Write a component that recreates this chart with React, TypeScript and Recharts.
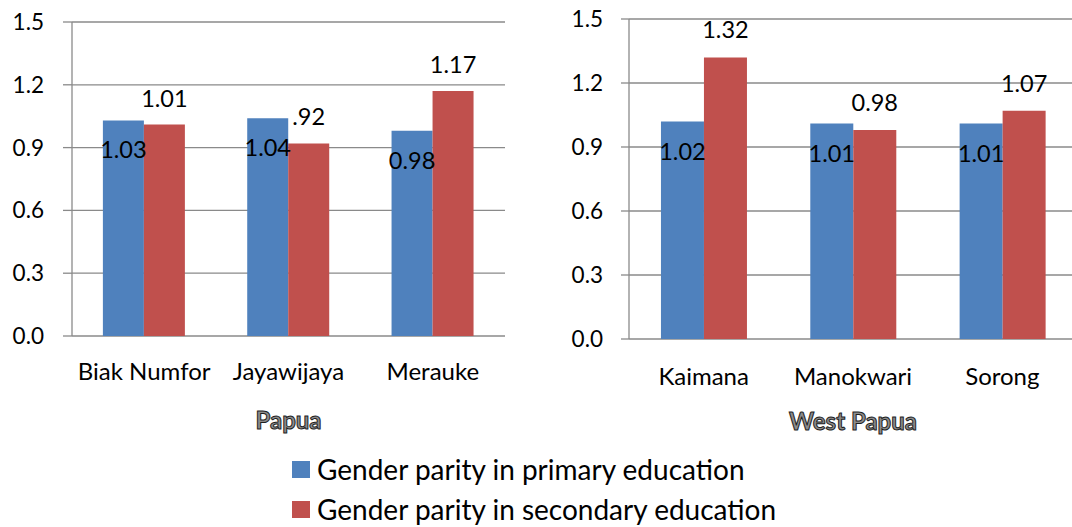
import { BarChart, Bar, XAxis, YAxis, CartesianGrid, LabelList } from 'recharts';

const papuaDistricts = ['Biak Numfor', 'Jayawijaya', 'Merauke'];
const papuaPrimary = [1.03, 1.04, 0.98];
const papuaSecondary = [1.01, 0.92, 1.17];
const papuaPrimaryLabels = ['1.03', '1.04', '0.98'];
const papuaSecondaryLabels = ['1.01', '.92', '1.17'];

const westPapuaDistricts = ['Kaimana', 'Manokwari', 'Sorong'];
const westPapuaPrimary = [1.02, 1.01, 1.01];
const westPapuaSecondary = [1.32, 0.98, 1.07];
const westPapuaPrimaryLabels = ['1.02', '1.01', '1.01'];
const westPapuaSecondaryLabels = ['1.32', '0.98', '1.07'];

const yTicks = [0, 0.3, 0.6, 0.9, 1.2, 1.5];
const edgeTicks = [0, 1, 2, 3];
const seriesNames = ['Gender parity in primary education', 'Gender parity in secondary education'];
const seriesColors = ['#4F81BD', '#C0504D'];

const GRID = '#8a8a8a';

function buildData(names: string[], prim: number[], sec: number[], primLbl: string[], secLbl: string[]) {
  return names.map((name, i) => ({
    name,
    pos: i + 0.5,
    primary: prim[i],
    secondary: sec[i],
    primaryLabel: primLbl[i],
    secondaryLabel: secLbl[i],
  }));
}

const papuaData = buildData(papuaDistricts, papuaPrimary, papuaSecondary, papuaPrimaryLabels, papuaSecondaryLabels);
const westPapuaData = buildData(westPapuaDistricts, westPapuaPrimary, westPapuaSecondary, westPapuaPrimaryLabels, westPapuaSecondaryLabels);

interface PanelProps {
  data: any[];
  title: string;
  height: number;
  margin: { top: number; right: number; left: number; bottom: number };
  yWidth: number;
  yTickSize: number;
  yTickMargin: number;
  catTickMargin: number;
  titleOffset: number;
  topOffset: number;
  insideOffset: number;
}

function Panel({ data, title, height, margin, yWidth, yTickSize, yTickMargin, catTickMargin, titleOffset, topOffset, insideOffset }: PanelProps) {
  return (
    <BarChart width={540} height={height} data={data} margin={margin} barCategoryGap="21.4%" barGap={0}>
      <CartesianGrid vertical={false} stroke={GRID} strokeWidth={1.3} xAxisId="cat" />
      {/* boundary ticks between categories, like the original */}
      <XAxis
        xAxisId="edge"
        type="number"
        dataKey="pos"
        domain={[0, 3]}
        ticks={edgeTicks}
        allowDataOverflow
        tickFormatter={() => ''}
        tickSize={9}
        height={0}
        axisLine={{ stroke: GRID, strokeWidth: 1.3 }}
        tickLine={{ stroke: GRID, strokeWidth: 1.3 }}
      />
      <XAxis
        xAxisId="cat"
        dataKey="name"
        interval={0}
        axisLine={false}
        tickLine={false}
        tickSize={0}
        tickMargin={catTickMargin}
        height={100}
        tick={{ fill: '#000', fontSize: 24 }}
        label={{
          value: title,
          position: 'insideBottom',
          offset: titleOffset,
          fill: '#8c8c8c',
          stroke: '#1e1e1e',
          strokeWidth: 1,
          fontSize: 24,
          fontWeight: 700,
        }}
      />
      <YAxis
        domain={[0, 1.5]}
        ticks={yTicks}
        interval={0}
        width={yWidth}
        tickSize={yTickSize}
        tickMargin={yTickMargin}
        tickFormatter={(v: number) => v.toFixed(1)}
        axisLine={{ stroke: GRID, strokeWidth: 1.3 }}
        tickLine={{ stroke: GRID, strokeWidth: 1.3 }}
        tick={{ fill: '#000', fontSize: 22.5 }}
      />
      <Bar dataKey="primary" xAxisId="cat" fill={seriesColors[0]} isAnimationActive={false}>
        <LabelList dataKey="primaryLabel" position="insideTop" offset={insideOffset} fill="#000" fontSize={23.5} />
      </Bar>
      <Bar dataKey="secondary" xAxisId="cat" fill={seriesColors[1]} isAnimationActive={false}>
        <LabelList dataKey="secondaryLabel" position="top" offset={topOffset} fill="#000" fontSize={23.5} />
      </Bar>
    </BarChart>
  );
}

export default function App() {
  return (
    <div
      style={{
        position: 'absolute',
        left: 0,
        top: 0,
        width: 1072,
        height: 527,
        overflow: 'hidden',
        background: '#fff',
        fontFamily: 'Lato, sans-serif',
      }}
    >
      <div style={{ position: 'absolute', left: 0, top: 0 }}>
        <Panel
          data={papuaData}
          title="Papua"
          height={440}
          margin={{ top: 22, right: 35, left: 0, bottom: 4 }}
          yWidth={72}
          yTickSize={9}
          yTickMargin={19}
          catTickMargin={27}
          titleOffset={7}
          topOffset={18}
          insideOffset={21}
        />
      </div>
      <div style={{ position: 'absolute', left: 540, top: 0 }}>
        <Panel
          data={westPapuaData}
          title="West Papua"
          height={444}
          margin={{ top: 19, right: 3, left: 0, bottom: 5 }}
          yWidth={89}
          yTickSize={8}
          yTickMargin={18}
          catTickMargin={29}
          titleOffset={9}
          topOffset={19}
          insideOffset={22}
        />
      </div>
      <div style={{ position: 'absolute', left: 292, top: 449 }}>
        {seriesNames.map((name, i) => (
          <div key={name} style={{ display: 'flex', alignItems: 'center', height: 40 }}>
            <span style={{ width: 18, height: 17, background: seriesColors[i], marginRight: 7 }} />
            <span style={{ fontSize: 28, color: '#000', lineHeight: '40px' }}>{name}</span>
          </div>
        ))}
      </div>
    </div>
  );
}
